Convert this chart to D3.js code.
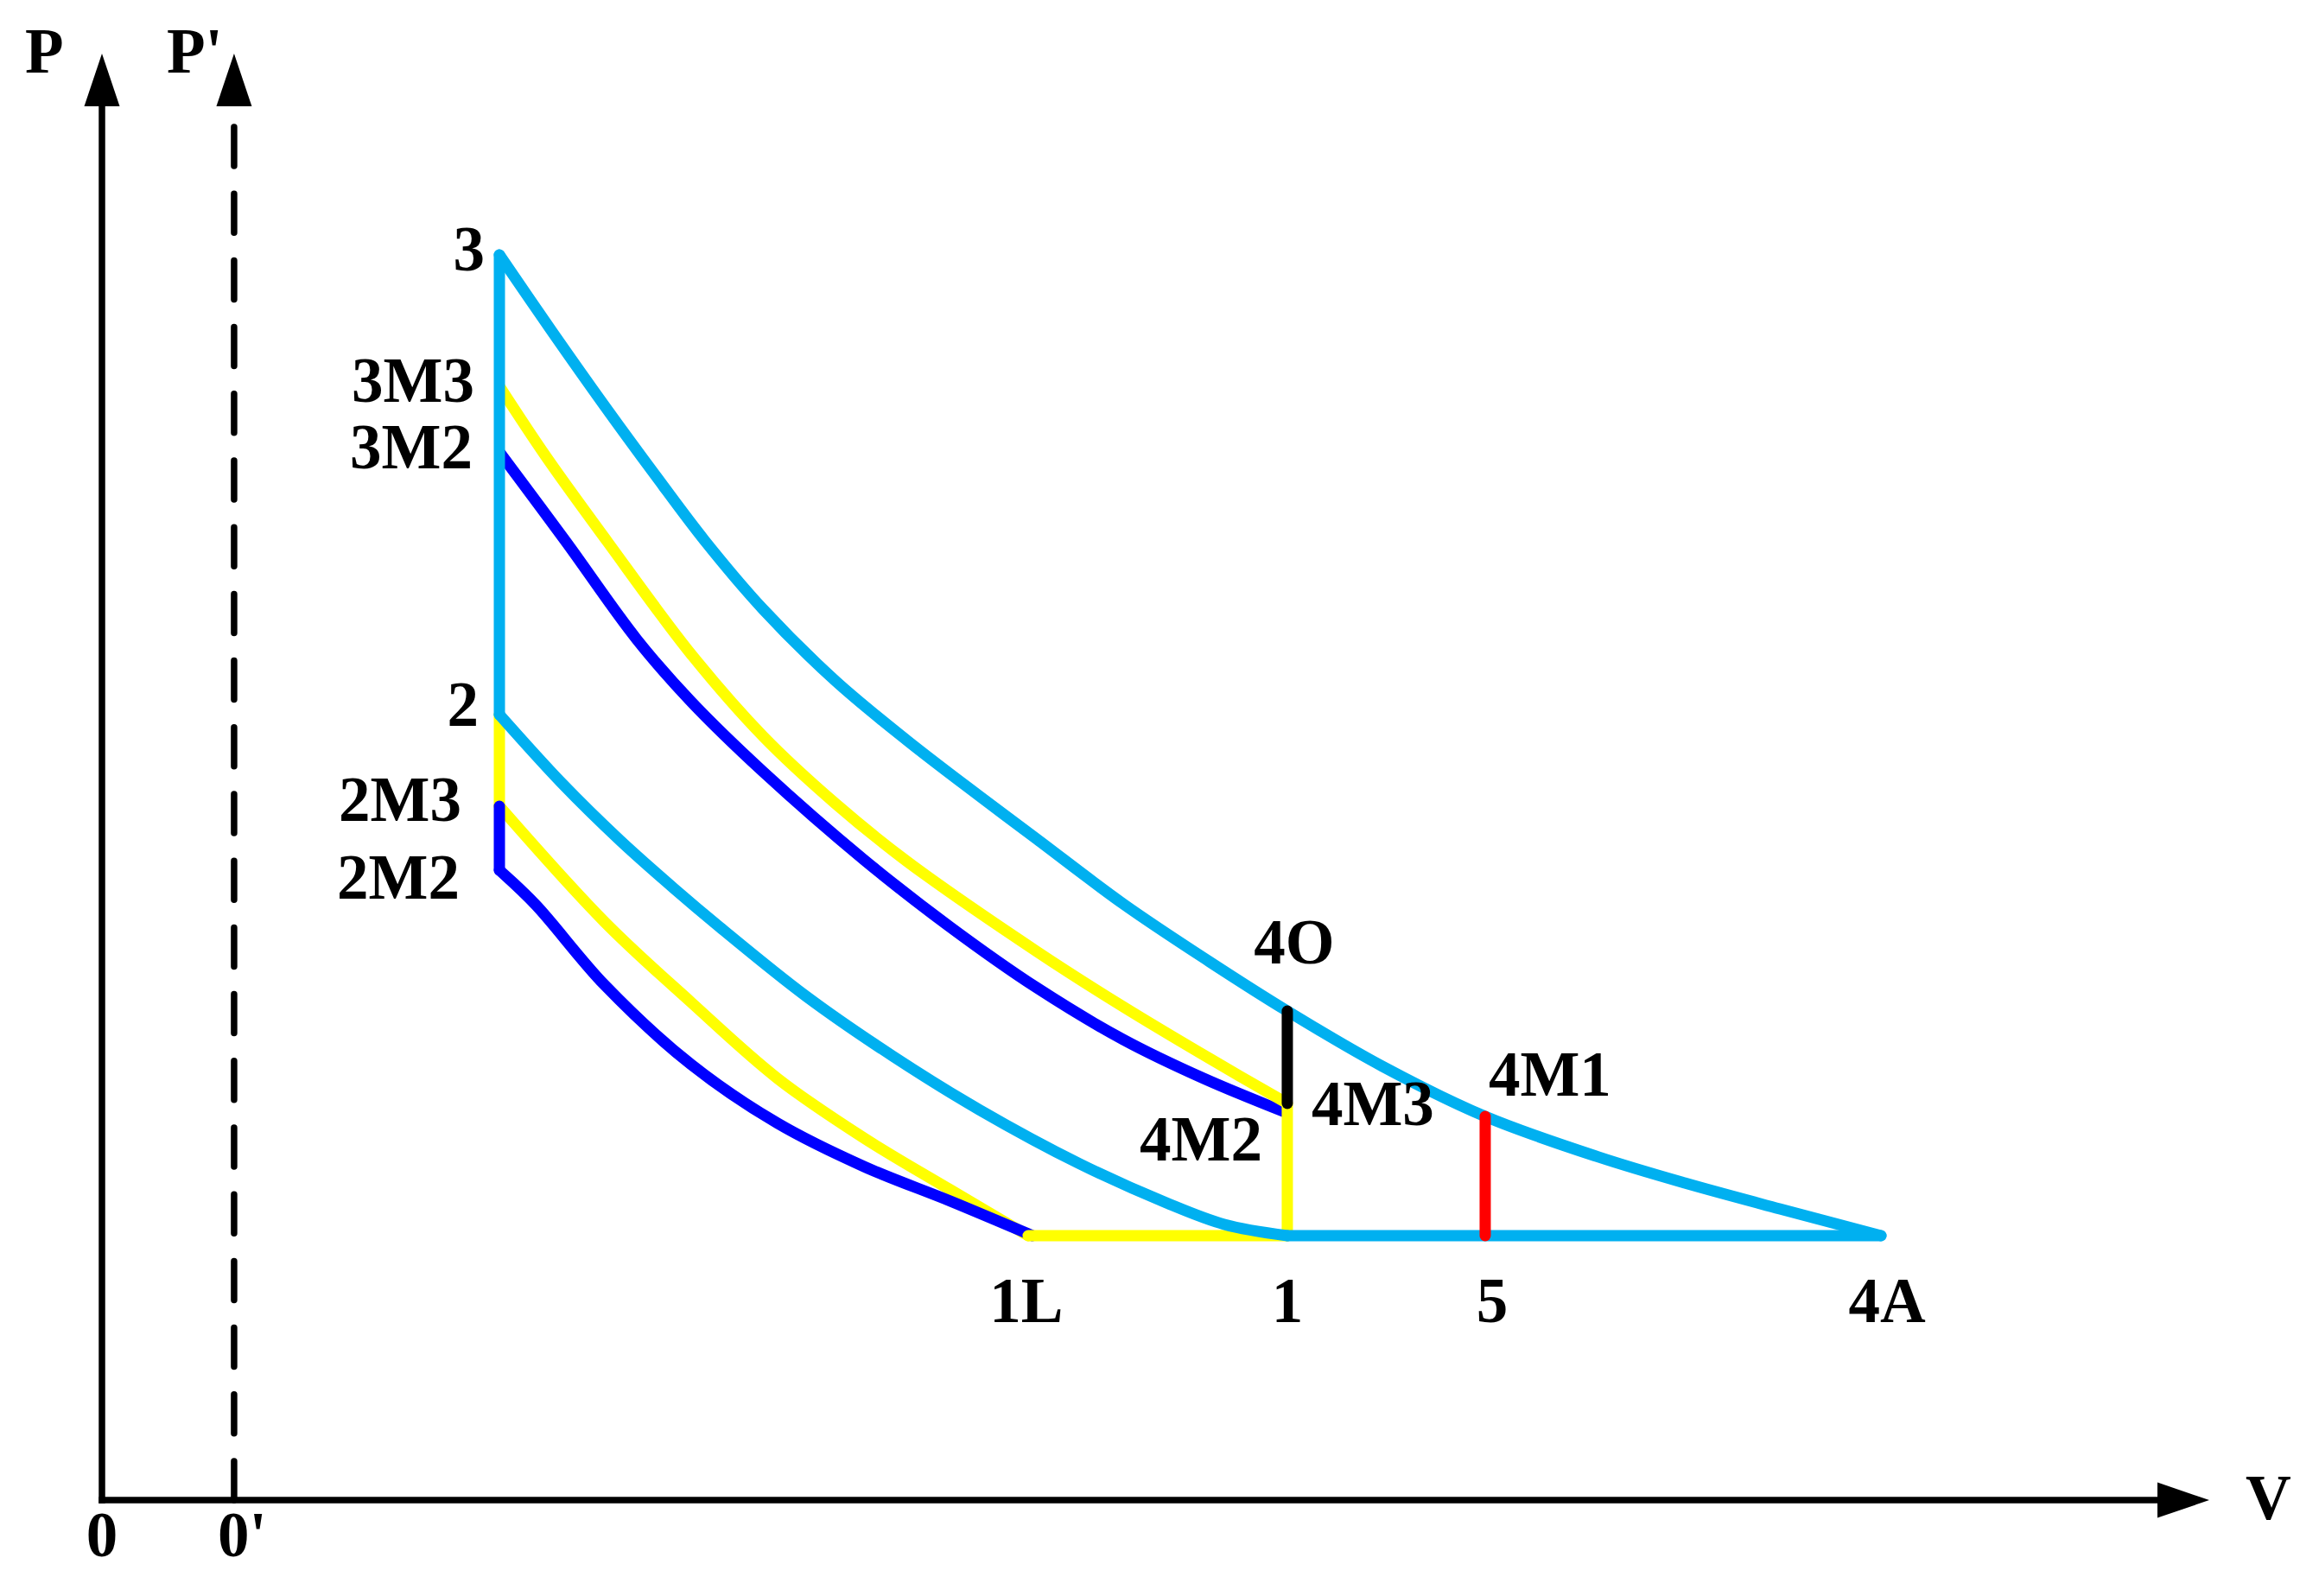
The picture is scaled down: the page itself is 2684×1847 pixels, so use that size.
<!DOCTYPE html>
<html>
<head>
<meta charset="utf-8">
<script src="https://cdn.jsdelivr.net/npm/d3@7"></script>
<style>
  body { margin: 0; background: #fff; }
  svg text { font-family: "Times New Roman", "Liberation Serif", serif; font-weight: bold; fill: #000; }
</style>
</head>
<body>
<svg id="chart" width="2684" height="1847"></svg>
<script>
// schematic p-V diagram, arbitrary units (V along x, P along y)
let origins = [{ v: 0, label: "0" }, { v: 0.627, label: "0'" }];

let statePoints = [
    { id: "3", v: 1.886, p: 8.608 },
    { id: "3M3", v: 1.886, p: 7.700 },
    { id: "3M2", v: 1.886, p: 7.246 },
    { id: "2", v: 1.886, p: 5.430 },
    { id: "2M3", v: 1.886, p: 4.797 },
    { id: "2M2", v: 1.886, p: 4.355 },
    { id: "4O", v: 5.625, p: 3.381 },
    { id: "4M3", v: 5.625, p: 2.742 },
    { id: "4M2", v: 5.625, p: 2.676 },
    { id: "4M1", v: 6.564, p: 2.652 },
    { id: "1L", v: 4.395, p: 1.828 },
    { id: "1", v: 5.625, p: 1.828 },
    { id: "5", v: 6.564, p: 1.828 },
    { id: "4A", v: 8.442, p: 1.828 }
];

// expansion 3 -> 4O -> 4M1 -> 4A
let expansionBase = [[1.886, 8.608], [2.140, 8.070], [2.386, 7.563], [2.632, 7.073], [2.858, 6.637],
    [3.137, 6.159], [3.481, 5.663], [3.821, 5.251], [4.162, 4.869], [4.436, 4.570], [4.846, 4.122],
    [5.256, 3.722], [5.625, 3.381], [6.076, 2.999], [6.564, 2.652], [7.101, 2.372], [7.511, 2.192],
    [7.962, 2.013], [8.442, 1.828]];
// compression 1 -> 2
let compressionBase = [[1.886, 5.430], [2.181, 4.958], [2.456, 4.564], [2.714, 4.229], [2.932, 3.961],
    [3.342, 3.483], [3.752, 3.070], [4.162, 2.700], [4.641, 2.324], [5.051, 2.055], [5.326, 1.906],
    [5.625, 1.828]];
// mode 3
let expansionM3 = [[1.886, 7.700], [2.112, 7.204], [2.399, 6.625], [2.796, 5.848], [3.137, 5.281],
    [3.481, 4.815], [3.821, 4.415], [4.436, 3.793], [4.846, 3.411], [5.256, 3.053], [5.625, 2.742]];
let compressionM3 = [[1.886, 4.797], [2.386, 3.996], [2.796, 3.441], [3.206, 2.915], [3.616, 2.503],
    [4.026, 2.145], [4.395, 1.828]];
// mode 2
let expansionM2 = [[1.886, 7.246], [2.202, 6.625], [2.538, 5.950], [2.796, 5.520], [3.137, 5.036],
    [3.616, 4.427], [4.026, 3.961], [4.436, 3.542], [4.846, 3.184], [5.228, 2.915], [5.625, 2.676]];
let compressionM2 = [[1.886, 4.355], [2.058, 4.116], [2.386, 3.560], [2.796, 3.011], [3.206, 2.605],
    [3.616, 2.306], [4.026, 2.067], [4.416, 1.828]];

// straight strokes between state points
let segments = [
    { from: "1L", to: "1", col: "yellow" },
    { from: "2", to: "2M3", col: "yellow" },
    { from: "2M3", to: "2M2", col: "blue" },
    { from: "4M3", to: "1", col: "yellow" },
    { from: "3", to: "2", col: "cyan" },
    { from: "1", to: "4A", col: "cyan" },
    { from: "4O", to: "4M3", col: "black" },
    { from: "4M1", to: "5", col: "red" }
];

const colors = { cyan: "#00B0F0", blue: "#0000FF", yellow: "#FFFF00", red: "#FF0000", black: "#000000" };

const svg = d3.select("#chart");
svg.append("rect").attr("width", 2684).attr("height", 1847).attr("fill", "#fff");

const x = d3.scaleLinear().domain([0, 10]).range([118, 2557]);
const y = d3.scaleLinear().domain([0, 10]).range([1736, 62]);

const pt = id => statePoints.find(d => d.id === id);

// axes
const axisG = svg.append("g");
const arrowLen = 61, arrowHalf = 20.5;

axisG.append("line")
    .attr("x1", x(0)).attr("y1", y(0))
    .attr("x2", x(0)).attr("y2", y(10) + arrowLen)
    .attr("stroke", "#000").attr("stroke-width", 7.5).attr("stroke-linecap", "square");
axisG.append("line")
    .attr("x1", x(0)).attr("y1", y(0))
    .attr("x2", x(10) - arrowLen).attr("y2", y(0))
    .attr("stroke", "#000").attr("stroke-width", 7.5).attr("stroke-linecap", "square");
axisG.append("line")
    .attr("x1", x(origins[1].v)).attr("y1", y(0))
    .attr("x2", x(origins[1].v)).attr("y2", y(10) + 85)
    .attr("stroke", "#000").attr("stroke-width", 7.5).attr("stroke-linecap", "round")
    .attr("stroke-dasharray", "45,32.2");

origins.forEach(o => {
    const cx = x(o.v), ty = y(10);
    axisG.append("path")
        .attr("d", "M" + cx + "," + ty + " L" + (cx - arrowHalf) + "," + (ty + arrowLen) + " L" + (cx + arrowHalf) + "," + (ty + arrowLen) + " Z")
        .attr("fill", "#000");
});
axisG.append("path")
    .attr("d", "M" + x(10) + "," + y(0) + " L" + (x(10) - 60) + "," + (y(0) - arrowHalf) + " L" + (x(10) - 60) + "," + (y(0) + arrowHalf) + " Z")
    .attr("fill", "#000");

axisG.append("text").attr("x", x(0) - 89).attr("y", 84).attr("font-size", 73).text("P");
axisG.append("text").attr("x", x(origins[1].v) - 78).attr("y", 84).attr("font-size", 73).text("P'");
axisG.append("text").attr("x", x(10) + 42).attr("y", y(0) + 22).attr("font-size", 73).text("V");
axisG.append("text").attr("x", x(0)).attr("y", y(0) + 65).attr("text-anchor", "middle").attr("font-size", 73).text(origins[0].label);
axisG.append("text").attr("x", x(origins[1].v) - 19).attr("y", y(0) + 65).attr("font-size", 73).text(origins[1].label);

// curves
const line = d3.line()
    .x(d => x(d[0]))
    .y(d => y(d[1]))
    .curve(d3.curveCatmullRom.alpha(0.5));

const curveG = svg.append("g").attr("fill", "none").attr("stroke-width", 13).attr("stroke-linejoin", "round");

function drawCurve(data, col, cap) {
    curveG.append("path")
        .datum(data)
        .attr("d", line)
        .attr("stroke", colors[col])
        .attr("stroke-linecap", cap || "round");
}

function drawSegment(s) {
    const a = pt(s.from), b = pt(s.to);
    curveG.append("line")
        .attr("x1", x(a.v)).attr("y1", y(a.p))
        .attr("x2", x(b.v)).attr("y2", y(b.p))
        .attr("stroke", colors[s.col])
        .attr("stroke-linecap", "round");
}

drawCurve(expansionM2, "blue", "butt");
drawCurve(compressionM3, "yellow");
drawCurve(compressionM2, "blue");
drawCurve(expansionM3, "yellow", "butt");
segments.slice(0, 4).forEach(drawSegment);
drawCurve(compressionBase, "cyan");
drawCurve(expansionBase, "cyan");
segments.slice(4).forEach(drawSegment);

// point labels
const labelLayout = {
    "3": { dx: -17, dy: 18, anchor: "end" },
    "3M3": { dx: -29, dy: 18, anchor: "end" },
    "3M2": { dx: -31, dy: 19, anchor: "end" },
    "2": { dx: -24, dy: 13, anchor: "end" },
    "2M3": { dx: -44, dy: 17, anchor: "end" },
    "2M2": { dx: -46, dy: 33, anchor: "end" },
    "4O": { dx: 8, dy: -55, anchor: "middle" },
    "4M3": { dx: 28, dy: 25, anchor: "start" },
    "4M2": { dx: -29, dy: 55, anchor: "end" },
    "4M1": { dx: 4, dy: -24, anchor: "start" },
    "1L": { dx: -2, dy: 100, anchor: "middle" },
    "1": { dx: 0, dy: 100, anchor: "middle" },
    "5": { dx: 8, dy: 100, anchor: "middle" },
    "4A": { dx: 7, dy: 100, anchor: "middle" }
};

svg.append("g").selectAll("text")
    .data(statePoints)
    .enter()
    .append("text")
    .attr("x", d => x(d.v) + labelLayout[d.id].dx)
    .attr("y", d => y(d.p) + labelLayout[d.id].dy)
    .attr("text-anchor", d => labelLayout[d.id].anchor)
    .attr("font-size", 73)
    .text(d => d.id);
</script>
</body>
</html>
